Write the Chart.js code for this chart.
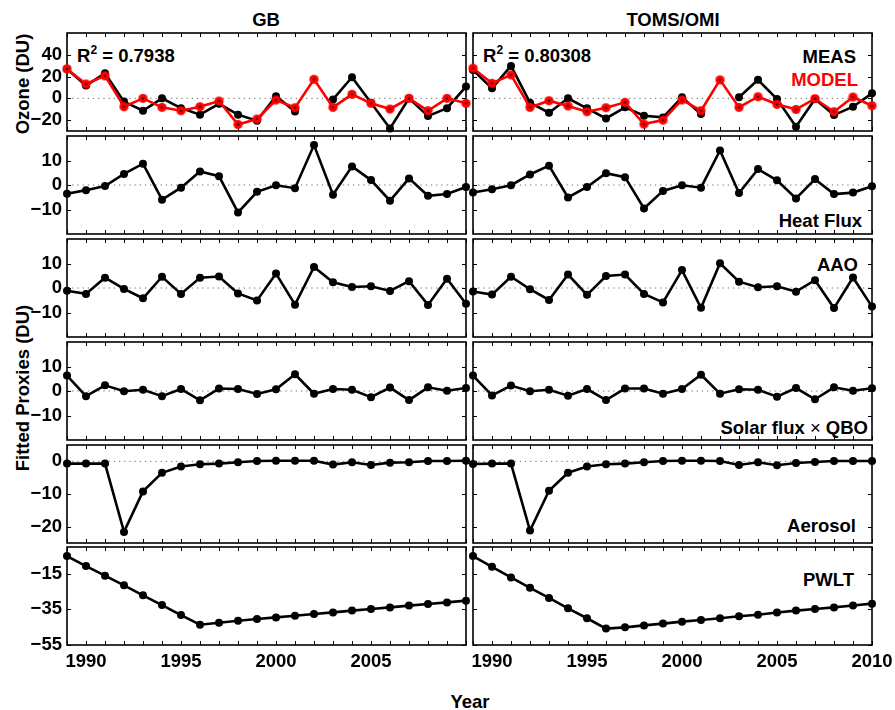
<!DOCTYPE html>
<html>
<head>
<meta charset="utf-8">
<script src="https://cdn.jsdelivr.net/npm/chart.js@4.4.1/dist/chart.umd.min.js"></script>
<style>
  html, body { margin: 0; padding: 0; background: #fff; }
  #wrap { position: relative; width: 895px; height: 710px; overflow: hidden; background: #fff;
          font-family: 'Liberation Sans', Arial, Helvetica, sans-serif; font-weight: bold; font-size: 18.5px; color: #000; }
  canvas { position: absolute; }
  .t { position: absolute; white-space: nowrap; line-height: 20px; height: 20px; }
  .c { transform: translateX(-50%); }
  .rot { transform: translate(-50%, -50%) rotate(-90deg); line-height: 20px; }
  sup { font-size: 12px; vertical-align: 0; position: relative; top: -8px; }
  .x { font-weight: normal; }
</style>
</head>
<body>
<div id="wrap">
  <div class="t c" style="left:266px; top:10px;">GB</div>
  <div class="t c" style="left:673px; top:10px;">TOMS/OMI</div>
  <div class="t rot" style="left:23px; top:84px;">Ozone (DU)</div>
  <div class="t rot" style="left:23px; top:388px;">Fitted Proxies (DU)</div>
  <div class="t c" style="left:470px; top:692px;">Year</div>
  <div class="t" style="left:77px; top:46px;">R<sup>2</sup> = 0.7938</div>
  <div class="t" style="left:483px; top:46px;">R<sup>2</sup> = 0.80308</div>
  <div class="t" style="right:39px; top:47px;">MEAS</div>
  <div class="t" style="right:37px; top:70px; color:#ff0000;">MODEL</div>
  <div class="t" style="right:33px; top:211px;">Heat Flux</div>
  <div class="t" style="right:37px; top:255px;">AAO</div>
  <div class="t" style="right:27px; top:418px;">Solar flux <span class="x">×</span> QBO</div>
  <div class="t" style="right:39px; top:516px;">Aerosol</div>
  <div class="t" style="right:41px; top:570px;">PWLT</div>
</div>
<script>
// ---------------- data ----------------
const years = [1989,1990,1991,1992,1993,1994,1995,1996,1997,1998,1999,2000,2001,2002,2003,2004,2005,2006,2007,2008,2009,2010];

const gbMeas    = [27, 11.7, 23, -3, -11.4, 0, -9, -15, -5, -15, -20.6, 2, -12, null, -1, 19.4, -4, -27.7, 0, -16.3, -9, 10.8];
const gbModel   = [27, 13.2, 20.6, -7.7, 0, -8.3, -11.4, -7.7, -2.5, -24, -19, -1.5, -8.6, 17.5, -8.3, 3.7, -4.6, -9.8, 0, -11.4, 0, -4.6];
const tomsMeas  = [26, 9.2, 29.8, -4, -13.2, 0, -9.2, -18.5, -8.3, -16, -17.5, 1, -14.5, null, 1, 17, -0.6, -26, -0.6, -15.4, -7.7, 4.6];
const tomsModel = [27.7, 13.8, 21.5, -8.3, -2.2, -7, -12.3, -8.6, -3.7, -23.7, -20, -1.5, -11.4, 17, -8.3, 1.5, -5.5, -10.2, -0.3, -12.3, 1.2, -6.8];

const gbHeat    = [-3.6, -2.1, -0.4, 4.5, 8.7, -6, -1.1, 5.5, 3.6, -11.2, -2.8, -0.1, -1.3, 16.3, -4, 7.6, 2, -6.4, 2.7, -4.4, -3.7, -0.8];
const tomsHeat  = [-3.1, -1.7, -0.1, 4.3, 7.9, -5.1, -0.8, 4.8, 3.2, -9.6, -2.4, -0.1, -1.1, 14.1, -3.3, 6.5, 1.9, -5.5, 2.4, -3.7, -3.1, -0.5];

const gbAao     = [-1.1, -2.4, 4.2, -0.4, -4.2, 4.6, -2.4, 4.2, 4.7, -2.2, -5.1, 5.9, -6.8, 8.6, 2.3, 0.4, 0.7, -1.2, 2.8, -6.9, 3.8, -6.4];
const tomsAao   = [-1.4, -2.7, 4.6, -0.5, -4.9, 5.5, -2.8, 4.9, 5.5, -2.4, -5.9, 7.3, -8.1, 10.1, 2.6, 0.3, 0.7, -1.5, 3.2, -8.2, 4.3, -7.6];

const gbSolar   = [6.3, -2.1, 2.3, -0.1, 0.5, -2.1, 0.8, -3.8, 1, 0.8, -1.2, 0.7, 6.8, -1.1, 0.8, 0.5, -2.5, 1.4, -3.7, 1.5, 0.1, 1.2];
const tomsSolar = [6.3, -1.8, 2.2, -0.1, 0.5, -1.9, 0.8, -3.7, 1, 1, -1.1, 0.8, 6.6, -1.1, 0.7, 0.5, -2.3, 1.2, -3.4, 1.5, 0.1, 1.1];

const gbAerosol   = [-0.7, -0.7, -0.7, -21.6, -9.2, -3.5, -1.6, -0.9, -0.7, -0.3, 0.1, 0.2, 0.2, 0.2, -1, -0.3, -1.1, -0.4, -0.3, 0.1, 0.1, 0.2];
const tomsAerosol = [-0.8, -0.7, -0.7, -21.2, -9, -3.5, -1.6, -0.9, -0.7, -0.3, 0.1, 0.2, 0.2, 0.1, -1.1, -0.3, -1.2, -0.5, -0.2, 0.1, 0.1, 0.1];

const gbPwlt   = [-5.1, -10.7, -16.1, -21.5, -27.1, -32.6, -38.2, -43.6, -42.5, -41.4, -40.4, -39.5, -38.6, -37.6, -36.7, -35.7, -34.8, -33.9, -32.9, -32, -31.1, -30.1];
const tomsPwlt = [-5.1, -11.1, -17.1, -22.9, -28.6, -34.4, -40, -45.8, -45.1, -44, -43, -41.9, -41, -40, -38.9, -38, -36.8, -35.7, -34.8, -33.9, -32.8, -31.8];

const ozoneTicks   = [-20, 0, 20, 40];
const proxyTicks   = [-10, 0, 10];
const aerosolTicks = [-20, -10, 0];
const pwltTicks    = [-55, -35, -15];
const yearLabels   = [1990, 1995, 2000, 2005, 2010];

// ---------------- layout ----------------
const colLeft = [67, 473];
const panelW = 399;
const rowTop = [33, 136, 239, 342, 445, 547];
const panelH = 98;
const FONT = { family: "'Liberation Sans', Arial, Helvetica, sans-serif", weight: 'bold', size: 18.5 };

const rowDefs = [
  { min: -30, max: 60, ticks: ozoneTicks, series: [[gbModel, gbMeas], [tomsModel, tomsMeas]], ozone: true },
  { min: -20, max: 20, ticks: proxyTicks, series: [[gbHeat], [tomsHeat]] },
  { min: -20, max: 20, ticks: proxyTicks, series: [[gbAao], [tomsAao]] },
  { min: -20, max: 20, ticks: proxyTicks, series: [[gbSolar], [tomsSolar]] },
  { min: -25, max: 5,  ticks: aerosolTicks, series: [[gbAerosol], [tomsAerosol]] },
  { min: -55, max: 0,  ticks: pwltTicks, series: [[gbPwlt], [tomsPwlt]] }
];

function redMarker() {
  const c = document.createElement('canvas');
  c.width = 11; c.height = 11;
  const g = c.getContext('2d');
  g.fillStyle = '#ff0000';
  g.beginPath(); g.arc(5.5, 5.5, 4.6, 0, Math.PI * 2); g.fill();
  g.fillStyle = '#000';
  g.beginPath(); g.arc(5.5, 5.5, 1.1, 0, Math.PI * 2); g.fill();
  return c;
}
const RED_PT = redMarker();

const framePlugin = {
  id: 'frame',
  beforeDatasetsDraw(chart) {
    const { ctx, chartArea: a, scales } = chart;
    const ys = scales.y, xs = scales.x;
    ctx.save();
    if (ys.min < 0 && ys.max > 0) {
      const y0 = ys.getPixelForValue(0);
      ctx.strokeStyle = '#666';
      ctx.lineWidth = 1;
      ctx.setLineDash([1.2, 4]);
      ctx.beginPath(); ctx.moveTo(a.left, y0); ctx.lineTo(a.right, y0); ctx.stroke();
      ctx.setLineDash([]);
    }
    ctx.strokeStyle = '#000';
    ctx.lineWidth = 1;
    ctx.beginPath();
    xs.ticks.forEach(t => {
      const x = Math.round(xs.getPixelForValue(t.value)) + 0.5;
      ctx.moveTo(x, a.bottom); ctx.lineTo(x, a.bottom - 4);
      ctx.moveTo(x, a.top); ctx.lineTo(x, a.top + 4);
    });
    ys.ticks.forEach(t => {
      const y = Math.round(ys.getPixelForValue(t.value)) + 0.5;
      ctx.moveTo(a.left, y); ctx.lineTo(a.left + 4, y);
      ctx.moveTo(a.right, y); ctx.lineTo(a.right - 4, y);
    });
    ctx.stroke();
    ctx.lineWidth = 1.6;
    ctx.strokeRect(a.left, a.top, a.right - a.left, a.bottom - a.top);
    ctx.restore();
  }
};

function fmtY(v) { return v < 0 ? '\u2212' + Math.abs(v) : String(v); }

const wrap = document.getElementById('wrap');

rowDefs.forEach((rd, r) => {
  [0, 1].forEach(c => {
    const LM = c === 0 ? 66 : 6;
    const RM = c === 0 ? 6 : 22;
    const TM = 6;
    const BM = r === 5 ? 36 : 6;
    const cv = document.createElement('canvas');
    const W = LM + panelW + RM, H = TM + panelH + BM;
    cv.width = W; cv.height = H;
    cv.style.width = W + 'px'; cv.style.height = H + 'px';
    cv.style.left = (colLeft[c] - LM) + 'px';
    cv.style.top = (rowTop[r] - TM) + 'px';
    wrap.appendChild(cv);

    const arrs = rd.series[c];
    const datasets = arrs.map((arr, k) => {
      const isRed = rd.ozone && k === 0;
      return {
        data: years.map((x, i) => ({ x: x, y: arr[i] })),
        borderColor: isRed ? '#ff0000' : '#000',
        backgroundColor: isRed ? '#ff0000' : '#000',
        borderWidth: 2.6,
        pointRadius: 4,
        pointBorderWidth: 0,
        pointBackgroundColor: isRed ? '#ff0000' : '#000',
        pointStyle: isRed ? RED_PT : 'circle',
        tension: 0,
        spanGaps: false,
        clip: false,
        order: isRed ? 0 : 1
      };
    });

    new Chart(cv, {
      type: 'line',
      data: { datasets },
      options: {
        responsive: false,
        animation: false,
        events: [],
        layout: { autoPadding: false, padding: { top: TM, right: RM, left: 0, bottom: 0 } },
        plugins: { legend: { display: false }, tooltip: { enabled: false } },
        scales: {
          x: {
            type: 'linear', min: years[0], max: years[years.length - 1],
            grid: { display: false, drawTicks: false }, border: { display: false },
            ticks: {
              stepSize: 1, autoSkip: false, maxRotation: 0, minRotation: 0, padding: 6,
              font: FONT, color: '#000',
              callback: v => (r === 5 && yearLabels.includes(v) && (c === 1 || v !== 2010)) ? String(v) : ''
            },
            afterFit: s => { s.height = BM; s.paddingLeft = 0; s.paddingRight = 0; s.paddingTop = 0; s.paddingBottom = 0; }
          },
          y: {
            type: 'linear', min: rd.min, max: rd.max,
            grid: { display: false, drawTicks: false }, border: { display: false },
            afterBuildTicks: s => { s.ticks = rd.ticks.map(v => ({ value: v })); },
            ticks: { display: c === 0, padding: 5, font: FONT, color: '#000', callback: v => fmtY(v) },
            afterFit: s => { s.width = LM; s.paddingLeft = 0; s.paddingRight = 0; s.paddingTop = 0; s.paddingBottom = 0; }
          }
        }
      },
      plugins: [framePlugin]
    });
  });
});
</script>
</body>
</html>
